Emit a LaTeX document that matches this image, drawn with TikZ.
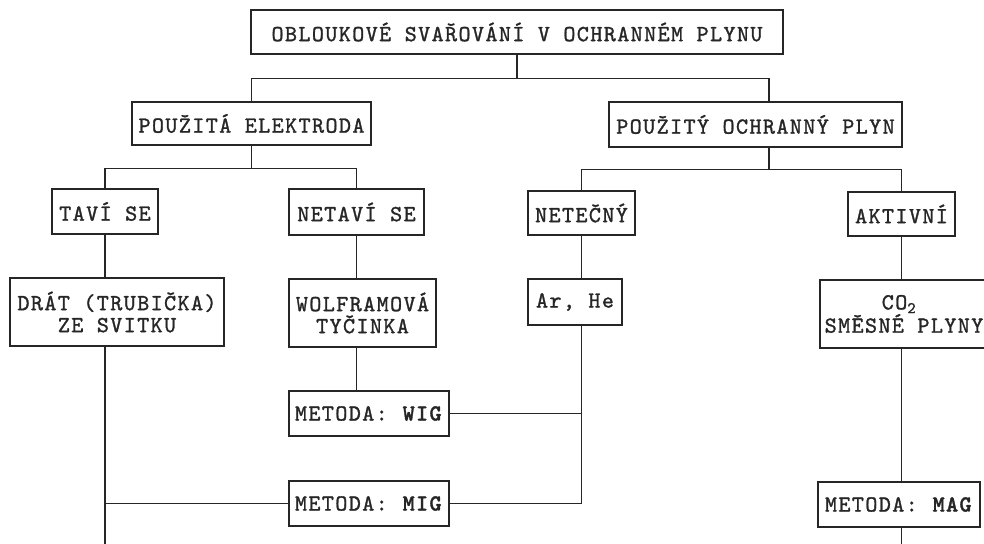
\documentclass[tikz,border=0pt]{standalone}
\usepackage{fontspec}
\newfontfamily\pf{lmmono10-regular.otf}[LetterSpace=6,FakeBold=1.2,BoldFont=lmmonolt10-bold.otf,BoldFeatures={FakeBold=1.5}]
\begin{document}
\begin{tikzpicture}[x=1pt,y=-1pt,
  box/.style={draw=black!85,line width=1.3pt,inner sep=0pt,align=center,
    font=\pf\fontsize{23}{22}\selectfont,text=black!85},
  ln/.style={draw=black!85,line width=1.3pt}]
\useasboundingbox (0,0) rectangle (984,543);
\fill[white] (0,0) rectangle (984,543);
\clip (0,0) rectangle (984,543);
% boxes
\node[box,minimum width=532pt,minimum height=44pt] (top) at (517,32) {OBLOUKOVÉ SVAŘOVÁNÍ V OCHRANNÉM PLYNU};
\node[box,minimum width=239pt,minimum height=43pt] (elek) at (251.5,123.5) {POUŽITÁ ELEKTRODA};
\node[box,minimum width=293pt,minimum height=45pt] (plyn) at (755.5,124.5) {POUŽITÝ OCHRANNÝ PLYN};
\node[box,minimum width=106pt,minimum height=45pt] (tavi) at (105,211.5) {TAVÍ SE};
\node[box,minimum width=135pt,minimum height=46pt] (netavi) at (356.5,212) {NETAVÍ SE};
\node[box,minimum width=107pt,minimum height=44pt] (netecny) at (581.5,213) {NETEČNÝ};
\node[box,minimum width=107pt,minimum height=44pt] (aktivni) at (901.5,214) {AKTIVNÍ};
\node[box,minimum width=214pt,minimum height=68pt] (drat) at (117,312) {DRÁT (TRUBIČKA)\\ZE SVITKU};
\node[box,minimum width=147pt,minimum height=68pt] (wolf) at (362.5,313) {WOLFRAMOVÁ\\TYČINKA};
\node[box,minimum width=94pt,minimum height=46pt] (arhe) at (575,302) {Ar, He};
\node[box,minimum width=178pt,minimum height=68pt] (co2) at (909,314) {CO\textsubscript{2}\hspace*{20pt}\\SMĚSNÉ PLYNY\hspace*{10pt}};
\node[box,minimum width=160pt,minimum height=45pt] (wig) at (369,413.5) {METODA: \textbf{WIG}};
\node[box,minimum width=160pt,minimum height=45pt] (mig) at (369,503.5) {METODA: \textbf{MIG}};
\node[box,minimum width=162pt,minimum height=45pt] (mag) at (899,504.5) {METODA: \textbf{MAG}};
% connectors
\draw[ln] (top.south) -- ++(0,24) coordinate (b1);
\draw[ln] (elek.north) |- (b1);
\draw[ln] (b1) -| ([xshift=13.5pt]plyn.north);
\draw[ln] (elek.south) -- ++(0,23) coordinate (b2);
\draw[ln] (tavi.north) |- (b2);
\draw[ln] (b2) -| (netavi.north);
\draw[ln] ([xshift=13.5pt]plyn.south) -- ++(0,22) coordinate (b3);
\draw[ln] (netecny.north) |- (b3);
\draw[ln] (b3) -| (aktivni.north);
\draw[ln] (tavi.south) -- (tavi.south |- drat.north);
\draw[ln] (netavi.south) -- (netavi.south |- wolf.north);
\draw[ln] (netecny.south) -- (netecny.south |- arhe.north);
\draw[ln] (aktivni.south) -- (aktivni.south |- co2.north);
\draw[ln] (netavi.south |- wolf.south) -- (netavi.south |- wig.north);
\draw[ln] (aktivni.south |- co2.south) -- (aktivni.south |- mag.north);
\coordinate (e1) at (tavi.south |- 0,560);
\draw[ln] (tavi.south |- drat.south) -- (e1);
\draw[ln] (mig.west) -- (mig.west -| tavi.south);
\draw[ln] (wig.east) -- (wig.east -| netecny.south);
\draw[ln] (netecny.south |- arhe.south) |- (mig.east);
\coordinate (e2) at (aktivni.south |- 0,560);
\draw[ln] (mag.south -| aktivni.south) -- (e2);
\end{tikzpicture}
\end{document}
